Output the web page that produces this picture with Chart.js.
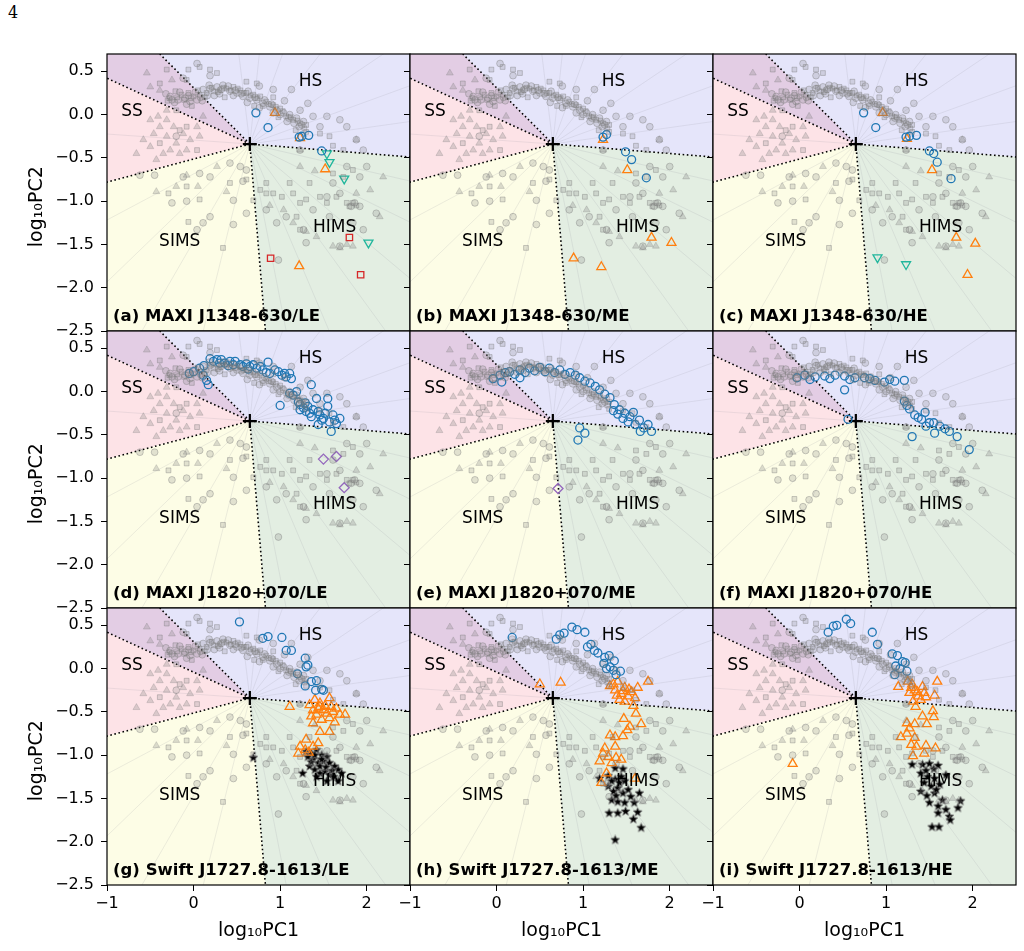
<!DOCTYPE html>
<html lang="en">
<head>
<meta charset="UTF-8">
<title>PC diagrams</title>
<script src="https://cdn.jsdelivr.net/npm/chart.js"></script>
<style>
  * { margin: 0; padding: 0; box-sizing: border-box; }
  body { width: 1024px; height: 951px; background: #fff; position: relative; overflow: hidden; }
  .page-num { position: absolute; left: 8px; top: 3px; font-family: 'DejaVu Serif', 'Liberation Serif', serif; font-size: 16px; }
  .panel { position: absolute; }
</style>
</head>
<body>
<div class="page-num">4</div>
<div id="grid"></div>
<script>
// axes
const xTicks = [-1, 0, 1, 2];
const yTicks = [-2.5, -2.0, -1.5, -1.0, -0.5, 0.0, 0.5];
const xRange = [-1, 2.5];
const yRange = [-2.5, 0.7];

// state boundaries (all meet at the centre)
const centre = [0.65, -0.34];
const edgeTop = [-0.39, 0.7];
const edgeLeftUp = [-1, 0.42];
const edgeLeftLow = [-1, -0.78];
const edgeBottom = [0.83, -2.5];
const edgeRight = [2.5, -0.49];
const spokeAngles = [8, 20, 34, 52, 70, 84, 97, 176, 208, 224, 240, 256, 281, 293, 306, 320, 334, 347];

const regionNames = ['HS', 'SS', 'SIMS', 'HIMS'];
const regionLabelPos = [[1.35, 0.38], [-0.71, 0.03], [-0.16, -1.47], [1.63, -1.30]];

const panelLabels = [
  '(a) MAXI J1348-630/LE', '(b) MAXI J1348-630/ME', '(c) MAXI J1348-630/HE',
  '(d) MAXI J1820+070/LE', '(e) MAXI J1820+070/ME', '(f) MAXI J1820+070/HE',
  '(g) Swift J1727.8-1613/LE', '(h) Swift J1727.8-1613/ME', '(i) Swift J1727.8-1613/HE'
];

// grey comparison sample, same in every panel
const bgCircle = [
  [-0.27,0.21],[-0.18,0.17],[-0.10,0.19],[-0.04,0.15],[0.04,0.17],[0.11,0.29],[0.19,0.30],[0.27,0.32],[0.34,0.34],[0.42,0.27],
  [0.50,0.25],[0.57,0.21],[0.65,0.19],[0.73,0.17],[0.80,0.13],[0.88,0.09],[0.96,0.05],[1.04,0.02],[1.11,0.0],[1.19,-0.04],[1.27,-0.08],
  [-0.22,0.14],[-0.06,0.22],[0.08,0.20],[0.16,0.22],[0.30,0.24],[0.46,0.22],[0.62,0.14],[0.76,0.08],[0.92,0.02],[1.08,-0.08],[1.22,-0.14],
  [-0.32,0.24],[-0.25,0.17],[-0.16,0.26],[-0.08,0.12],[0.02,0.26],[0.10,0.16],[0.18,0.34],[0.24,0.22],[0.32,0.29],[0.40,0.33],
  [0.48,0.28],[0.55,0.24],[0.63,0.27],[0.71,0.20],[0.82,0.17],[0.90,0.12],[1.00,0.00],[1.10,-0.04],[1.16,-0.10],[1.25,-0.12],
  [0.04,0.59],[0.19,0.45],[-0.12,0.42],[0.76,0.33],[0.92,0.29],[1.13,0.29],[1.32,0.13],[1.54,-0.02],[1.77,-0.14],[1.96,-0.41],
  [1.88,-0.29],[1.46,-0.14],[1.69,-0.06],[1.38,-0.02],[1.23,0.05],[1.05,0.16],
  [1.23,-0.41],[1.77,-0.60],[1.92,-0.72],[2.00,-0.60],[1.61,-0.79],[1.54,-0.95],[1.69,-0.91],[1.92,-1.06],[2.11,-1.14],[1.84,-1.25],
  [1.57,-1.18],[1.38,-1.10],[1.27,-1.33],[1.07,-1.18],[0.96,-1.25],[0.84,-1.10],[1.30,-1.48],[0.98,-1.68],[1.69,-1.52],[1.96,-1.33],
  [1.86,-1.02],[1.82,-1.06],
  [-0.45,-0.70],[-0.25,-1.02],[-0.08,-1.00],[0.19,-0.72],[0.46,-0.99],[0.61,-1.14],[0.19,-1.18],[0.11,-1.25],[0.46,-1.27],[0.04,-1.33],
  [0.42,-0.56],[0.54,-0.60],[0.61,-0.64],[0.07,-0.68],[-0.12,-0.72],[0.57,-0.77],[-0.20,-0.25],[-0.62,-0.70]
];
const bgSquare = [
  [-0.21,0.27],[-0.14,0.23],[-0.06,0.25],[0.00,0.21],[0.07,0.23],[0.15,0.25],[0.23,0.27],[0.30,0.28],[0.38,0.30],[0.46,0.32],
  [0.54,0.28],[0.61,0.25],[0.69,0.23],[0.77,0.21],[0.84,0.15],[0.92,0.11],[1.00,0.07],[1.07,-0.02],[1.15,-0.06],[1.23,-0.10],
  [1.30,-0.12],[-0.30,0.16],[-0.02,0.10],[0.36,0.20],[0.70,0.10],[0.98,-0.03],[1.18,-0.18],
  [-0.28,0.19],[-0.19,0.20],[-0.11,0.17],[-0.03,0.19],[0.05,0.28],[0.13,0.20],[0.21,0.31],[0.28,0.26],[0.35,0.31],[0.43,0.28],
  [0.51,0.30],[0.58,0.25],[0.66,0.22],[0.74,0.19],[0.80,0.10],[0.87,0.12],[0.95,0.09],[1.03,0.04],[1.12,-0.03],[1.20,-0.07],[1.28,-0.16],
  [-0.06,0.52],[0.07,0.55],[0.19,0.52],[0.27,0.48],[0.61,0.38],[0.73,0.36],[0.92,0.20],[1.30,-0.20],[1.46,-0.22],[1.57,-0.25],
  [1.61,-0.36],[1.73,-0.41],
  [-0.39,0.36],[-0.31,0.52],[-0.08,0.40],[-0.20,0.05],[-0.08,-0.14],[0.04,-0.41],[-0.39,-0.33],[-0.16,-0.18],
  [0.61,-0.75],[0.77,-0.87],[0.84,-0.79],[0.92,-0.91],[1.02,-0.95],[1.11,-0.79],[1.15,-0.91],[1.23,-1.02],[1.30,-0.98],[1.34,-0.79],
  [1.46,-0.95],[1.54,-1.02],[1.65,-0.95],[1.77,-1.02],[1.80,-1.06],[1.84,-1.02],[1.61,-0.68],[1.73,-0.72],[1.84,-0.64],[1.19,-1.18],
  [1.23,-1.33],[0.84,-0.91],[0.69,-0.99],[1.88,-1.05],
  [-0.29,-0.91],[-0.08,-0.83],[-0.06,-1.24],[0.34,-1.54],[0.07,-0.98],[0.42,-0.79]
];
const bgTriangle = [
  [-0.58,-0.29],[-0.50,-0.37],[-0.46,-0.22],[-0.39,-0.14],[-0.31,-0.25],[-0.27,-0.41],[-0.20,-0.33],[-0.12,-0.22],[-0.04,-0.29],
  [-0.08,-0.41],[0.04,-0.14],[0.07,-0.25],[-0.41,-0.02],[-0.31,-0.06],[-0.54,0.48],[-0.50,0.32],[-0.39,0.28],[-0.31,0.05],
  [-0.50,-0.06],[-0.23,-0.14],[0.11,-0.02],[-0.35,-0.45],[-0.16,-0.45],[-0.43,-0.52],[-0.66,-0.45],[-0.25,0.40],
  [-0.43,-0.89],[-0.20,-0.83],[0.05,-0.83],[0.38,-0.89],[-0.08,-0.70],[0.27,-0.60],
  [1.04,-1.10],[1.23,-0.60],[1.88,-0.29],[2.04,-0.87],[2.19,-0.72],[2.15,-1.18],[1.61,-1.52],[1.69,-1.54],[1.77,-1.50],
  [1.84,-1.52],[1.42,-1.41],[1.30,-1.35],[1.15,-1.25],[1.88,-0.91],[1.23,-0.41],[0.88,-1.05],[1.40,-0.65]
];

// MAXI J1348-630
const aBlue = [[0.72,0.02],[0.86,-0.15],[1.22,-0.26],[1.25,-0.25],[1.33,-0.24],[1.48,-0.42]];
const aOrange = [[0.94,0.02],[1.23,-0.27],[1.52,-0.63],[1.22,-1.75]];
const aTeal = [[1.54,-0.45],[1.57,-0.55],[1.74,-0.74],[2.02,-1.48]];
const aRed = [[1.80,-1.42],[0.89,-1.66],[1.93,-1.85]];
const bBlue = [[1.23,-0.26],[1.27,-0.23],[1.49,-0.43],[1.56,-0.52],[1.73,-0.73]];
const bOrange = [[1.23,-0.29],[1.51,-0.64],[0.89,-1.66],[1.21,-1.76],[1.79,-1.42],[2.02,-1.48]];
const cBlue = [[0.74,0.02],[0.88,-0.15],[1.23,-0.26],[1.27,-0.25],[1.35,-0.24],[1.50,-0.42],[1.55,-0.45],[1.59,-0.55],[1.75,-0.74]];
const cOrange = [[0.96,0.02],[1.24,-0.28],[1.53,-0.64],[1.81,-1.42],[2.03,-1.49],[1.94,-1.85]];
const cTeal = [[0.90,-1.65],[1.23,-1.73]];

// MAXI J1820+070
const dBlue = [
  [-0.05,0.21],[0.00,0.23],[0.07,0.27],[0.11,0.19],[0.15,0.13],[0.17,0.08],[0.19,0.38],[0.23,0.35],[0.27,0.37],[0.30,0.33],
  [0.32,0.37],[0.36,0.33],[0.42,0.35],[0.46,0.31],[0.48,0.35],[0.54,0.31],[0.57,0.29],[0.61,0.32],[0.65,0.29],[0.69,0.31],
  [0.73,0.27],[0.77,0.29],[0.80,0.25],[0.86,0.34],[0.88,0.21],[0.94,0.25],[0.98,0.23],[1.02,0.19],[1.05,0.21],[1.07,0.17],
  [1.11,0.21],[1.13,0.15],[1.36,0.08],[1.11,-0.02],[1.15,-0.04],[1.19,0.00],[1.21,-0.12],[1.23,-0.15],[1.27,-0.19],[1.29,-0.13],
  [1.30,-0.23],[1.32,-0.17],[1.34,-0.25],[1.38,-0.21],[1.42,-0.08],[1.44,-0.23],[1.46,-0.27],[1.50,-0.31],[1.52,-0.25],[1.55,-0.08],
  [1.55,-0.17],[1.57,-0.35],[1.59,-0.46],[1.61,-0.27],[1.63,-0.33],[1.65,-0.37],[1.69,-0.31],[1.44,-0.38],[1.00,-0.16],[1.23,-0.21],
  [0.12,0.30],[0.40,0.30],[0.63,0.26],[0.84,0.22],[1.36,-0.29],[1.48,-0.33]
];
const dPurple = [[1.50,-0.78],[1.65,-0.75],[1.74,-1.11]];
const eBlue = [
  [-0.04,0.15],[0.04,0.19],[0.15,0.23],[0.27,0.25],[0.38,0.27],[0.50,0.28],[0.61,0.27],[0.73,0.25],[0.85,0.22],[0.96,0.16],
  [1.08,0.10],[1.19,0.02],[1.31,-0.07],[1.36,-0.15],[1.42,-0.21],[1.48,-0.25],[1.54,-0.29],[1.65,-0.33],[1.75,-0.38],[1.79,-0.46],
  [0.96,-0.42],[0.94,-0.56],[1.02,-0.48],[0.06,0.11],[0.27,0.16],[0.56,0.23],[0.10,0.22],[0.21,0.20],[0.33,0.22],[0.44,0.24],
  [0.67,0.22],[0.79,0.20],[0.91,0.19],[1.02,0.12],[1.14,0.06],[1.25,-0.03],[1.40,-0.26],[1.46,-0.31],[1.52,-0.35],[1.60,-0.38],
  [1.70,-0.42],[1.58,-0.24],[1.35,-0.22],[1.66,-0.46]
];
const ePurple = [[0.71,-1.12]];
const fBlue = [
  [-0.03,0.16],[0.06,0.19],[0.18,0.17],[0.29,0.18],[0.41,0.19],[0.52,0.18],[0.64,0.16],[0.75,0.16],[0.87,0.13],[0.98,0.11],
  [1.10,0.12],[1.21,0.13],[0.52,0.02],[1.21,-0.11],[1.27,-0.20],[1.33,-0.27],[1.41,-0.32],[1.50,-0.36],[1.62,-0.40],[1.73,-0.46],
  [1.82,-0.52],[1.96,-0.67],[1.30,-0.52],[0.56,-0.32],[1.56,-0.48],[1.68,-0.43],[1.45,-0.24],[0.12,0.14],[0.35,0.15],[0.58,0.14],
  [0.81,0.15],[1.04,0.14],[1.24,-0.16],[1.37,-0.30],[1.46,-0.40],[1.55,-0.36]
];

// Swift J1727.8-1613
const gBlue = [
  [0.53,0.54],[0.80,0.35],[0.86,0.37],[1.02,0.36],[1.07,0.21],[1.13,0.21],[1.29,0.12],[1.32,0.04],[1.30,0.02],[1.20,-0.06],
  [1.36,-0.15],[1.42,-0.14],[1.29,-0.20],[1.41,-0.25],[1.48,-0.24],[1.50,-0.25]
];
const gOrange = [
  [1.11,-0.44],[1.40,-0.36],[1.57,-0.34],[1.46,-0.40],[1.38,-0.48],[1.42,-0.53],[1.50,-0.48],[1.54,-0.52],[1.61,-0.50],[1.65,-0.46],
  [1.69,-0.53],[1.75,-0.53],[1.57,-0.57],[1.48,-0.59],[1.38,-0.63],[1.63,-0.62],[1.46,-0.73],[1.57,-0.73],[1.46,-0.44],[1.34,-0.42],
  [1.52,-0.43],[1.44,-0.46],[1.36,-0.55],[1.59,-0.44],[1.30,-0.82],[1.23,-0.90],[1.29,-0.94],[1.38,-0.90],[1.44,-0.86],[1.21,-0.98],
  [1.33,-0.97]
];
const gStar = [
  [0.69,-1.03],[1.26,-1.21],[1.30,-0.96],[1.36,-0.98],[1.42,-0.94],[1.48,-1.00],[1.54,-1.02],[1.38,-1.05],[1.44,-1.09],[1.50,-1.07],
  [1.57,-1.09],[1.63,-1.13],[1.67,-1.17],[1.34,-1.13],[1.40,-1.17],[1.46,-1.21],[1.52,-1.19],[1.57,-1.23],[1.71,-1.21],[1.54,-1.30],
  [1.67,-1.30],[1.42,-1.25],[1.32,-1.02],[1.46,-1.13],[1.36,-1.08],[1.53,-1.14],[1.60,-1.18],[1.48,-1.05],[1.40,-1.00],[1.62,-1.25]
];
const hBlue = [
  [0.18,0.36],[0.69,0.34],[0.73,0.39],[0.78,0.41],[0.87,0.48],[0.93,0.45],[1.02,0.42],[1.09,0.28],[1.05,0.25],[1.13,0.21],
  [1.17,0.18],[1.25,0.13],[1.30,0.15],[1.36,0.09],[1.24,0.06],[1.27,0.00],[1.31,0.02],[1.35,-0.02],[1.43,-0.03],[1.38,-0.07]
];
const hOrange = [
  [0.50,-0.18],[0.74,-0.16],[1.75,-0.15],[1.63,-0.22],[1.31,-0.20],[1.40,-0.15],[1.37,-0.25],[1.44,-0.29],[1.48,-0.22],[1.52,-0.32],
  [1.56,-0.27],[1.42,-0.36],[1.48,-0.38],[1.60,-0.34],[1.58,-0.43],[1.35,-0.18],[1.46,-0.26],[1.39,-0.31],[1.53,-0.24],
  [1.61,-0.52],[1.47,-0.58],[1.67,-0.64],[1.54,-0.67],[1.51,-0.71],[1.46,-0.78],[1.31,-0.77],[1.37,-0.79],[1.37,-0.90],[1.25,-0.92],
  [1.23,-0.98],[1.19,-1.07],[1.29,-1.02],[1.38,-1.03],[1.44,-1.05],[1.33,-1.09],[1.27,-1.21],[1.21,-1.32],[1.60,-1.27]
];
const hStar = [
  [1.37,-1.15],[1.46,-1.16],[1.19,-1.27],[1.29,-1.24],[1.37,-1.28],[1.42,-1.32],[1.48,-1.30],[1.40,-1.38],[1.35,-1.42],[1.46,-1.44],
  [1.65,-1.44],[1.33,-1.52],[1.40,-1.54],[1.48,-1.55],[1.59,-1.55],[1.30,-1.67],[1.40,-1.67],[1.49,-1.65],[1.63,-1.66],[1.58,-1.74],
  [1.67,-1.84],[1.37,-1.98],[1.29,-1.36],[1.44,-1.25],[1.33,-1.30],[1.52,-1.40],[1.38,-1.47],[1.55,-1.48]
];
const iBlue = [
  [0.33,0.42],[0.39,0.49],[0.43,0.50],[0.54,0.57],[0.59,0.52],[0.84,0.42],[0.90,0.28],[1.07,0.17],[1.13,0.15],[1.19,0.08],
  [1.22,0.07],[1.11,0.03],[1.16,0.00],[1.24,-0.03],[1.10,-0.07]
];
const iOrange = [
  [-0.08,-1.10],[1.14,-0.21],[1.59,-0.15],[1.25,-0.15],[1.29,-0.22],[1.33,-0.25],[1.27,-0.28],[1.37,-0.32],[1.42,-0.21],[1.44,-0.28],
  [1.56,-0.31],[1.34,-0.44],[1.40,-0.36],[1.31,-0.38],[1.46,-0.33],[1.30,-0.18],[1.36,-0.27],
  [1.54,-0.49],[1.55,-0.56],[1.42,-0.55],[1.47,-0.64],[1.24,-0.63],[1.33,-0.64],[1.27,-0.69],[1.17,-0.79],[1.24,-0.75],[1.33,-0.80],
  [1.29,-0.88],[1.35,-0.90],[1.46,-0.89],[1.57,-0.92],[1.44,-0.98],[1.31,-1.01]
];
const iStar = [
  [1.30,-1.11],[1.42,-1.11],[1.50,-1.10],[1.60,-1.12],[1.40,-1.21],[1.48,-1.25],[1.56,-1.27],[1.69,-1.23],[1.44,-1.32],[1.52,-1.36],
  [1.62,-1.34],[1.40,-1.42],[1.56,-1.44],[1.65,-1.52],[1.50,-1.55],[1.60,-1.59],[1.86,-1.53],[1.83,-1.61],[1.69,-1.63],[1.60,-1.67],
  [1.73,-1.71],[1.74,-1.75],[1.53,-1.83],[1.61,-1.83],[1.46,-1.18],[1.55,-1.16],[1.58,-1.40],[1.47,-1.47]
];

const panelSeries = [
  [['blue', aBlue], ['orange', aOrange], ['teal', aTeal], ['red', aRed]],
  [['blue', bBlue], ['orange', bOrange]],
  [['blue', cBlue], ['orange', cOrange], ['teal', cTeal]],
  [['blue', dBlue], ['purple', dPurple]],
  [['blue', eBlue], ['purple', ePurple]],
  [['blue', fBlue]],
  [['blue', gBlue], ['orange', gOrange], ['star', gStar]],
  [['blue', hBlue], ['orange', hOrange], ['star', hStar]],
  [['blue', iBlue], ['orange', iOrange], ['star', iStar]]
];

// ---------- layout ----------
const colLeft = [107, 410, 713];
const rowTop = [54, 331, 608];
const plotW = 303, plotH = 277;
const ML = 100, MR = 10, MT = 10, MB = 65;

function makeStar(size) {
  const c = document.createElement('canvas');
  c.width = c.height = size;
  const g = c.getContext('2d');
  const m = size / 2, r = size / 2 - 0.8, ri = r * 0.45;
  g.beginPath();
  for (let k = 0; k < 10; k++) {
    const rr = k % 2 ? ri : r;
    const t = -Math.PI / 2 + k * Math.PI / 5;
    g.lineTo(m + rr * Math.cos(t), m + rr * Math.sin(t));
  }
  g.closePath();
  g.fillStyle = '#000';
  g.fill();
  g.strokeStyle = '#777';
  g.lineWidth = 0.8;
  g.stroke();
  return c;
}
const starImg = makeStar(11);

const markerStyles = {
  blue: { pointStyle: 'circle', pointRadius: 4, pointBorderColor: '#1f77b4', pointBorderWidth: 1.3 },
  orange: { pointStyle: 'triangle', pointRadius: 5.2, pointBorderColor: '#ff7f0e', pointBorderWidth: 1.3 },
  teal: { pointStyle: 'triangle', pointRadius: 5.2, pointRotation: 180, pointBorderColor: '#20b69c', pointBorderWidth: 1.3 },
  red: { pointStyle: 'rect', pointRadius: 4.5, pointBorderColor: '#d62728', pointBorderWidth: 1.3 },
  purple: { pointStyle: 'rectRot', pointRadius: 5, pointBorderColor: '#9467bd', pointBorderWidth: 1.3 },
  star: { pointStyle: starImg, pointRadius: 5.5 }
};

const regions = [
  { color: '#e5e5fa', pts: [centre, edgeRight, [2.5, 0.7], edgeTop] },
  { color: '#e3cde4', pts: [centre, edgeTop, [-1, 0.7], edgeLeftUp] },
  { color: '#fde3e7', pts: [centre, edgeLeftUp, edgeLeftLow] },
  { color: '#fdfde6', pts: [centre, edgeLeftLow, [-1, -2.5], edgeBottom] },
  { color: '#e3eee2', pts: [centre, edgeBottom, [2.5, -2.5], edgeRight] }
];

function toXY(list) {
  return list.map(p => ({ x: p[0], y: p[1] }));
}

const regionPlugin = {
  id: 'regions',
  beforeDatasetsDraw(chart) {
    const { ctx, chartArea: a, scales: { x, y } } = chart;
    const px = p => [x.getPixelForValue(p[0]), y.getPixelForValue(p[1])];
    ctx.save();
    ctx.beginPath();
    ctx.rect(a.left, a.top, a.width, a.height);
    ctx.clip();
    regions.forEach(r => {
      ctx.fillStyle = r.color;
      ctx.beginPath();
      r.pts.forEach((p, i) => {
        const [u, v] = px(p);
        if (i) ctx.lineTo(u, v); else ctx.moveTo(u, v);
      });
      ctx.closePath();
      ctx.fill();
    });
    const [cx, cy] = px(centre);
    ctx.strokeStyle = 'rgba(150,150,160,0.22)';
    ctx.lineWidth = 0.8;
    spokeAngles.forEach(d => {
      const t = d * Math.PI / 180;
      ctx.beginPath();
      ctx.moveTo(cx, cy);
      ctx.lineTo(cx + 600 * Math.cos(t), cy - 600 * Math.sin(t));
      ctx.stroke();
    });
    ctx.strokeStyle = '#000';
    ctx.lineWidth = 1.6;
    ctx.setLineDash([1.6, 2.6]);
    [edgeTop, edgeLeftUp, edgeLeftLow, edgeBottom, edgeRight].forEach(e => {
      const [u, v] = px(e);
      ctx.beginPath();
      ctx.moveTo(cx, cy);
      ctx.lineTo(u, v);
      ctx.stroke();
    });
    ctx.restore();
  },
  afterDatasetsDraw(chart, args, opts) {
    const { ctx, chartArea: a, scales: { x, y } } = chart;
    ctx.save();
    ctx.fillStyle = '#000';
    ctx.font = '17px "DejaVu Sans"';
    ctx.textAlign = 'center';
    ctx.textBaseline = 'middle';
    regionNames.forEach((n, i) => {
      ctx.fillText(n, x.getPixelForValue(regionLabelPos[i][0]), y.getPixelForValue(regionLabelPos[i][1]));
    });
    ctx.font = 'bold 16.5px "DejaVu Sans"';
    ctx.textAlign = 'left';
    ctx.textBaseline = 'alphabetic';
    ctx.fillText(opts.label, a.left + 6, a.bottom - 10);
    ctx.strokeStyle = '#000';
    ctx.lineWidth = 1.2;
    ctx.strokeRect(a.left, a.top, a.width, a.height);
    ctx.restore();
  }
};

const fmt = (v, d) => (v < 0 ? '\u2212' : '') + Math.abs(v).toFixed(d);
// keep the plot area fixed: no extra room for overhanging tick labels
const noOverhang = s => { s.paddingTop = 0; s.paddingBottom = 0; s.paddingLeft = 0; s.paddingRight = 0; };

const grid = document.getElementById('grid');
panelLabels.forEach((label, idx) => {
  const row = Math.floor(idx / 3), col = idx % 3;
  const div = document.createElement('div');
  div.className = 'panel';
  div.style.left = (colLeft[col] - ML) + 'px';
  div.style.top = (rowTop[row] - MT) + 'px';
  const cv = document.createElement('canvas');
  cv.width = ML + plotW + MR;
  cv.height = MT + plotH + MB;
  div.appendChild(cv);
  grid.appendChild(div);

  const greyStyle = { pointBorderColor: 'rgba(120,120,120,0.38)', pointBackgroundColor: 'rgba(128,128,128,0.22)', pointBorderWidth: 1 };
  const datasets = [
    { data: toXY(bgCircle), pointStyle: 'circle', pointRadius: 3.4, ...greyStyle },
    { data: toXY(bgSquare), pointStyle: 'rect', pointRadius: 3.4, ...greyStyle },
    { data: toXY(bgTriangle), pointStyle: 'triangle', pointRadius: 4, pointBorderColor: 'rgba(120,120,120,0.25)', pointBackgroundColor: 'rgba(130,130,130,0.28)', pointBorderWidth: 1 }
  ];
  panelSeries[idx].forEach(([kind, pts]) => {
    datasets.push({ data: toXY(pts), pointBackgroundColor: 'rgba(0,0,0,0)', ...markerStyles[kind] });
  });
  datasets.push({ data: toXY([centre]), pointStyle: 'cross', pointRadius: 7, pointBorderColor: '#000', pointBorderWidth: 2.2 });

  new Chart(cv, {
    type: 'scatter',
    data: { datasets },
    plugins: [regionPlugin],
    options: {
      responsive: false,
      animation: false,
      devicePixelRatio: 1,
      layout: { padding: { left: 0, right: MR, top: MT, bottom: 0 } },
      plugins: { legend: { display: false }, tooltip: { enabled: false }, regions: { label } },
      scales: {
        x: {
          type: 'linear', min: xRange[0], max: xRange[1],
          afterFit: s => { s.height = MB; noOverhang(s); },
          afterBuildTicks: s => { s.ticks = xTicks.map(v => ({ value: v })); },
          grid: { drawOnChartArea: false, drawTicks: true, tickLength: 6, color: '#000', tickWidth: 1 },
          border: { display: false },
          ticks: { display: row === 2, padding: 3, color: '#000', font: { family: 'DejaVu Sans', size: 16 }, callback: v => fmt(v, 0) },
          title: { display: row === 2, text: 'log\u2081\u2080PC1', color: '#000', font: { family: 'DejaVu Sans', size: 19 }, padding: { top: 0, bottom: 8 } }
        },
        y: {
          type: 'linear', min: yRange[0], max: yRange[1],
          afterFit: s => { s.width = ML; noOverhang(s); },
          afterBuildTicks: s => { s.ticks = yTicks.map(v => ({ value: v })); },
          grid: { drawOnChartArea: false, drawTicks: true, tickLength: 6, color: '#000', tickWidth: 1 },
          border: { display: false },
          ticks: { display: col === 0, padding: 7, color: '#000', font: { family: 'DejaVu Sans', size: 16 }, callback: v => fmt(v, 1) },
          title: { display: col === 0, text: 'log\u2081\u2080PC2\u2002\u2002\u2002', color: '#000', font: { family: 'DejaVu Sans', size: 19 }, padding: { top: 19, bottom: 0 } }
        }
      }
    }
  });
});
</script>
</body>
</html>
